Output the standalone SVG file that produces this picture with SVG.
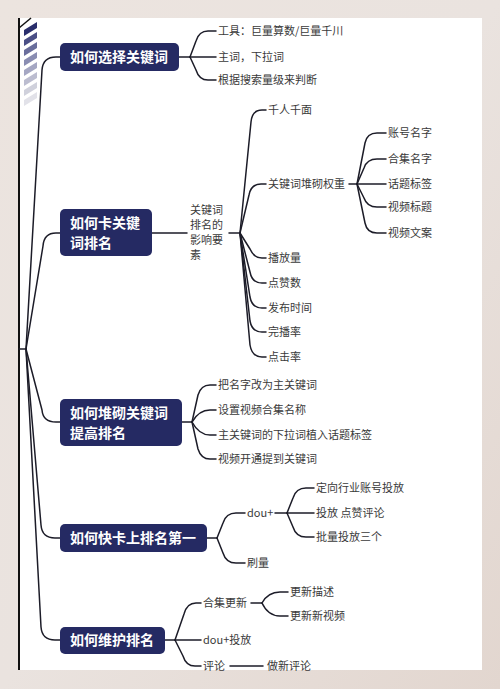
<svg xmlns="http://www.w3.org/2000/svg" width="500" height="689" viewBox="0 0 500 689">
<defs>
<linearGradient id="bg" x1="0" y1="0" x2="1" y2="1">
<stop offset="0" stop-color="#ece4df"/>
<stop offset="0.5" stop-color="#eae3df"/>
<stop offset="1" stop-color="#e2d6cf"/>
</linearGradient>
<style>
.node rect{fill:#252a63;}
.node text{fill:#ffffff;font-family:"Noto Sans CJK SC","Noto Sans",sans-serif;font-size:14px;font-weight:bold;}
.lbl{fill:#3a3a3a;font-family:"Noto Sans CJK SC","Noto Sans",sans-serif;font-size:11px;}
#connectors path{fill:none;stroke:#1c1c28;stroke-width:1.5;stroke-linecap:round;stroke-linejoin:round;}
</style>
</defs>
<rect width="500" height="689" fill="url(#bg)"/>
<rect x="19" y="18" width="463" height="652" fill="#ffffff"/>
<g id="decor">
<line x1="19" y1="18" x2="19" y2="670" stroke="#111" stroke-width="2"/>
<line x1="19" y1="28" x2="31" y2="18" stroke="#111" stroke-width="1.5"/>
<polygon points="24,30 37,22 37,28 24,36" fill="#2a2e6c"/>
<polygon points="24,40 37,32 37,38 24,46" fill="#4b4f86"/>
<polygon points="24,50 37,42 37,48 24,56" fill="#6a6e9c"/>
<polygon points="24,60 37,52 37,58 24,66" fill="#8a8db2"/>
<polygon points="24,70 37,62 37,68 24,76" fill="#a5a7c3"/>
<polygon points="24,80 37,72 37,78 24,86" fill="#bcbdd0"/>
<polygon points="24,90 37,82 37,88 24,96" fill="#d0d1dc"/>
<polygon points="24,100 37,92 37,98 24,106" fill="#e2e2e9"/>
</g>
<g id="connectors">
<path d="M19,349 L26,349"/>
<path d="M26,349 L42,70 Q43,57 56,57 L60,57"/>
<path d="M26,349 L43,246 Q44,233 56,233 L60,233"/>
<path d="M26,349 L42,410 Q43,422 56,422 L60,422"/>
<path d="M26,349 L41,525 Q42,538 55,538 L60,538"/>
<path d="M26,349 L41,627 Q42,640 55,640 L60,640"/>
<path d="M179,57 L190,57"/>
<path d="M190,57 L196,41 Q199,31 208,31 L216,31"/>
<path d="M190,57 L216,57"/>
<path d="M190,57 L196,70 Q199,80 208,80 L216,80"/>
<path d="M152,233 L187,233"/>
<path d="M229,233 L240,233"/>
<path d="M240,233 L251,122 Q252,110 262,110 L266,110"/>
<path d="M240,233 L249,195 Q251,184 261,184 L266,184"/>
<path d="M240,233 L250,249 Q254,258 262,258 L266,258"/>
<path d="M240,233 L250,272 Q252,283 262,283 L266,283"/>
<path d="M240,233 L250,297 Q252,308 262,308 L266,308"/>
<path d="M240,233 L250,321 Q252,332 262,332 L266,332"/>
<path d="M240,233 L250,345 Q252,357 262,357 L266,357"/>
<path d="M349,184 L357,184"/>
<path d="M357,184 L365,143 Q367,133 377,133 L386,133"/>
<path d="M357,184 L364,168 Q367,159 377,159 L386,159"/>
<path d="M357,184 L386,184"/>
<path d="M357,184 L364,198 Q367,207 377,207 L386,207"/>
<path d="M357,184 L365,223 Q367,233 377,233 L386,233"/>
<path d="M182,422 L192,422"/>
<path d="M192,422 L198,395 Q201,385 210,385 L216,385"/>
<path d="M192,422 Q199,410 210,410 L216,410"/>
<path d="M192,422 Q199,435 210,435 L216,435"/>
<path d="M192,422 L198,449 Q201,459 210,459 L216,459"/>
<path d="M207,538 L217,538"/>
<path d="M217,538 L223,523 Q226,513 236,513 L245,513"/>
<path d="M217,538 L223,553 Q226,563 236,563 L245,563"/>
<path d="M275,513 L287,513"/>
<path d="M287,513 L293,498 Q296,488 306,488 L314,488"/>
<path d="M287,513 L314,513"/>
<path d="M287,513 L293,527 Q296,537 306,537 L314,537"/>
<path d="M165,640 L175,640"/>
<path d="M175,640 L184,614 Q187,603 196,603 L201,603"/>
<path d="M175,640 L201,640"/>
<path d="M175,640 L183,656 Q186,666 195,666 L201,666"/>
<path d="M251,603 L262,603"/>
<path d="M262,603 Q268,592 280,592 L288,592"/>
<path d="M262,603 Q268,616 280,616 L288,616"/>
<path d="M230,666 L263,666"/>
</g>
<g id="n1" class="node"><rect x="60" y="43" width="119" height="28" rx="5"/><text x="70" y="62">如何选择关键词</text></g>
<g id="n2" class="node"><rect x="60" y="209" width="92" height="47" rx="5"/><text x="70" y="228">如何卡关键</text><text x="70" y="248">词排名</text></g>
<g id="n3" class="node"><rect x="60" y="399" width="122" height="47" rx="5"/><text x="70" y="418">如何堆砌关键词</text><text x="70" y="438">提高排名</text></g>
<g id="n4" class="node"><rect x="60" y="524" width="147" height="28" rx="5"/><text x="70" y="543">如何快卡上排名第一</text></g>
<g id="n5" class="node"><rect x="60" y="627" width="105" height="27" rx="5"/><text x="70" y="645">如何维护排名</text></g>
<g id="n1-children">
<text class="lbl" x="218" y="35">工具：巨量算数/巨量千川</text>
<text class="lbl" x="218" y="61">主词，下拉词</text>
<text class="lbl" x="218" y="84">根据搜索量级来判断</text>
</g>
<g id="n2-factors">
<text class="lbl" x="190" y="214">关键词</text>
<text class="lbl" x="190" y="229">排名的</text>
<text class="lbl" x="190" y="244">影响要</text>
<text class="lbl" x="190" y="259">素</text>
</g>
<g id="n2-children">
<text class="lbl" x="268" y="114">千人千面</text>
<text class="lbl" x="268" y="188">关键词堆砌权重</text>
<text class="lbl" x="268" y="262">播放量</text>
<text class="lbl" x="268" y="287">点赞数</text>
<text class="lbl" x="268" y="312">发布时间</text>
<text class="lbl" x="268" y="336">完播率</text>
<text class="lbl" x="268" y="361">点击率</text>
</g>
<g id="weight-children">
<text class="lbl" x="388" y="137">账号名字</text>
<text class="lbl" x="388" y="163">合集名字</text>
<text class="lbl" x="388" y="188">话题标签</text>
<text class="lbl" x="388" y="211">视频标题</text>
<text class="lbl" x="388" y="237">视频文案</text>
</g>
<g id="n3-children">
<text class="lbl" x="218" y="389">把名字改为主关键词</text>
<text class="lbl" x="218" y="414">设置视频合集名称</text>
<text class="lbl" x="218" y="439">主关键词的下拉词植入话题标签</text>
<text class="lbl" x="218" y="463">视频开通提到关键词</text>
</g>
<g id="n4-children">
<text class="lbl" x="247" y="517">dou+</text>
<text class="lbl" x="247" y="567">刷量</text>
<text class="lbl" x="316" y="492">定向行业账号投放</text>
<text class="lbl" x="316" y="517">投放 点赞评论</text>
<text class="lbl" x="316" y="541">批量投放三个</text>
</g>
<g id="n5-children">
<text class="lbl" x="203" y="607">合集更新</text>
<text class="lbl" x="203" y="644">dou+投放</text>
<text class="lbl" x="203" y="670">评论</text>
<text class="lbl" x="290" y="596">更新描述</text>
<text class="lbl" x="290" y="620">更新新视频</text>
<text class="lbl" x="267" y="670">做新评论</text>
</g>
</svg>
